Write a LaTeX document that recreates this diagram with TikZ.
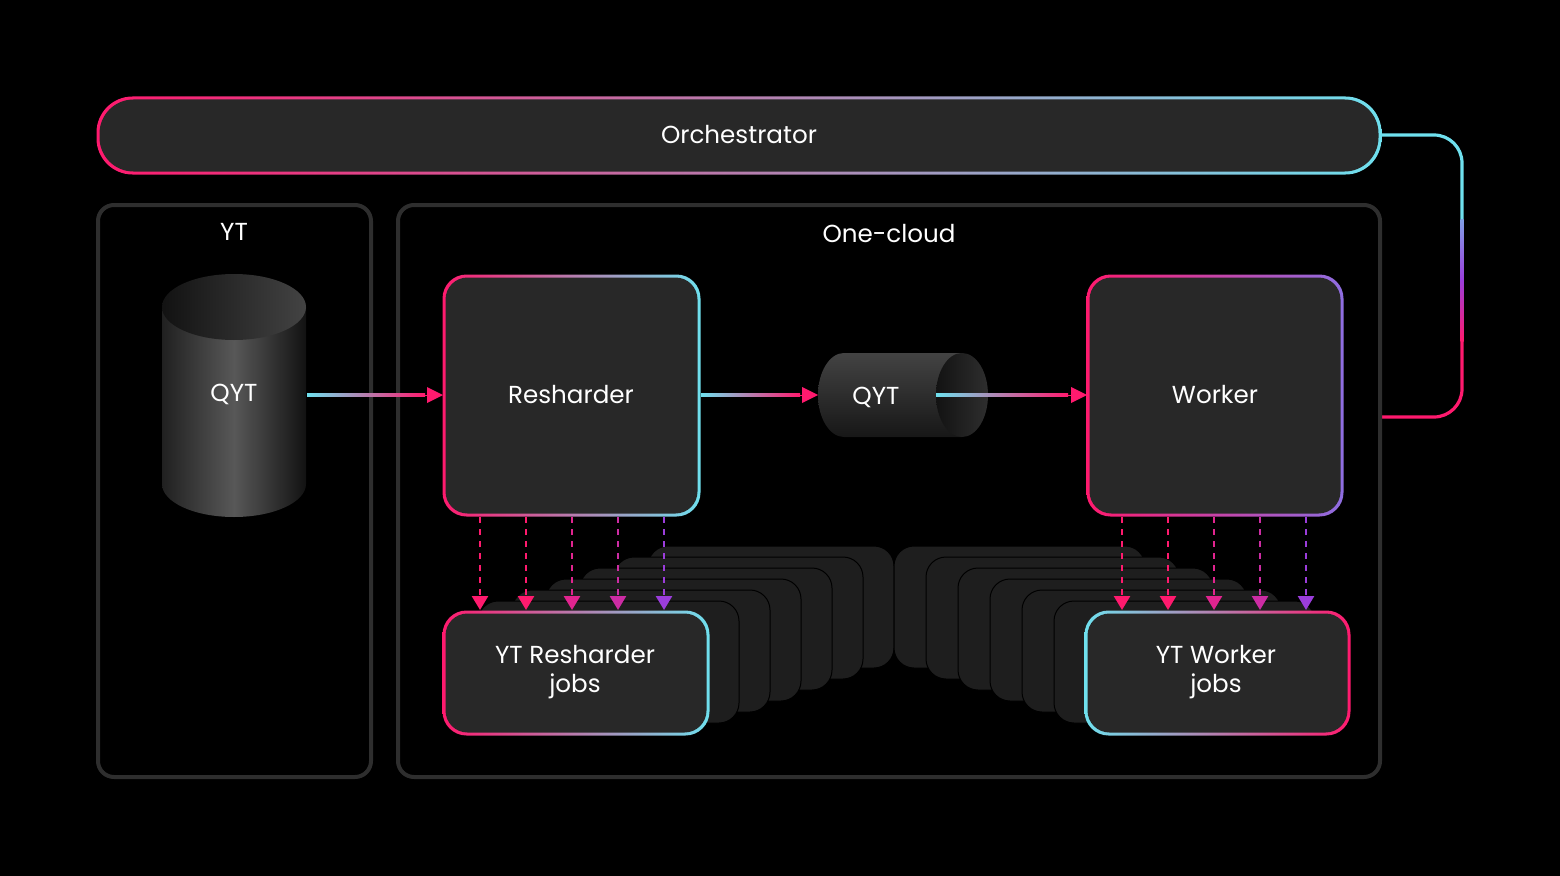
\documentclass[tikz,border=0pt]{standalone}
\usepackage{fontspec}
\setmainfont{Poppins}
\usetikzlibrary{arrows.meta}
\definecolor{pk}{HTML}{FF1A6E}
\definecolor{pu}{HTML}{9B3DDB}
\definecolor{cy}{HTML}{6FE0EE}
\definecolor{bx}{HTML}{282828}
\definecolor{gb}{HTML}{2E2E2E}
\definecolor{sh}{HTML}{1E1E1E}
\tikzset{
 lbl/.style={text=white,font=\fontsize{35}{42}\selectfont,align=center},
 arr/.style={line width=1.6mm,-{Triangle[length=8mm,width=8mm]}},
 dar/.style={line width=1.3mm,dash pattern=on 3mm off 3mm,pk,-{Triangle[length=7mm,width=8mm]}},
 grp/.style={draw=gb,line width=2mm,rounded corners=8mm},
}
\newcommand{\gbox}[8]{% x1 y1 x2 y2 leftcol midcol rightcol radius
 \shade[left color=#5,middle color=#6,right color=#7,rounded corners=#8mm] (#1-1.5,#2-1.5) rectangle (#3+1.5,#4+1.5);
 \fill[bx,rounded corners=#8mm-1mm] (#1+1.5,#2+1.5) rectangle (#3-1.5,#4-1.5);}
\begin{document}
\begin{tikzpicture}[x=0.5mm,y=-0.5mm]
\fill[black] (0,0) rectangle (1560,876);
% orchestrator
\gbox{98}{98}{1380}{173}{pk}{pu}{cy}{18}
\node[lbl] (orch) at (739,135) {Orchestrator};
\draw[cy,line width=1.6mm,rounded corners=14mm] (1382,135) -- (1462,135) -- (1462,220);
\shade[top color=cy!60!pu,bottom color=pu] (1460.5,219) rectangle (1463.5,281);
\shade[top color=pu,bottom color=pk] (1460.5,280) rectangle (1463.5,341);
\draw[pk,line width=1.6mm,rounded corners=14mm] (1462,340) -- (1462,417) -- (1382,417);
% groups
\draw[grp] (98,205) rectangle (371,777);
\node[lbl] (ytl) at (234,232) {YT};
\draw[grp] (398,205) rectangle (1380,777);
\node[lbl] (ocl) at (889,234) {One-cloud};
% cylinder
\shade[left color=gb!70!black,right color=gb!40!black,middle color=gb!80!white] (162,307) -- (162,484) arc[start angle=180,end angle=0,x radius=72,y radius=33] -- (306,307) -- cycle;
\shade[left color=gb!40!black,right color=gb!90!white] (234,307) ellipse[x radius=72,y radius=33];
\node[lbl] (q1) at (234,394) {QYT};
% horizontal cylinder
\shade[top color=gb!90!white,bottom color=gb!50!black] (962,353) -- (844,353) arc[start angle=270,end angle=90,x radius=26,y radius=42] -- (962,437) -- cycle;
\shade[left color=gb!40!black,right color=gb!100!white] (962,395) ellipse[x radius=26,y radius=42];
\node[lbl] (q2) at (876,397) {QYT};
% stacks
\foreach \i in {6,5,...,1}{
 \fill[sh,rounded corners=10mm] (444+\i*34,612-\i*11) rectangle (708+\i*31,734-\i*11);
 \draw[black,line width=0.5mm,rounded corners=10mm] (444+\i*34,612-\i*11) rectangle (708+\i*31,734-\i*11);
 \fill[sh,rounded corners=10mm] (1086-\i*32,612-\i*11) rectangle (1349-\i*34,734-\i*11);
 \draw[black,line width=0.5mm,rounded corners=10mm] (1086-\i*32,612-\i*11) rectangle (1349-\i*34,734-\i*11);
}
% boxes
\gbox{444}{276}{699}{515}{pk}{pu}{cy}{12}
\node[lbl] (res) at (571,395) {Resharder};
\gbox{1088}{276}{1342}{515}{pk}{pk!50!pu}{pu!70!cy}{12}
\node[lbl] (wrk) at (1215,395) {Worker};
\gbox{444}{612}{708}{734}{pk}{pu}{cy}{12}
\node[lbl] (rj) at (575,672) {YT Resharder\\jobs};
\gbox{1086}{612}{1349}{734}{cy}{pu}{pk}{12}
\node[lbl] (wj) at (1216,672) {YT Worker\\jobs};
% arrows
\shade[left color=cy,right color=pk] (307,393.5) rectangle (425,396.5);
\draw[arr,pk,line width=0mm] (424,395) -- (res.west -| 443,0);
\shade[left color=cy,right color=pk] (701,393.5) rectangle (800,396.5);
\draw[arr,pk,line width=0mm] (799,395) -- (818,395);
\shade[left color=cy,right color=pk] (936,393.5) rectangle (1068,396.5);
\draw[arr,pk,line width=0mm] (1067,395) -- (1087,395);
\foreach \x/\c in {480/pk,526/pk,572/pk!70!pu,618/pk!50!pu,664/pu}{
 \draw[dar,\c] (\x,517) -- (\x,610);}
\foreach \x/\c in {1122/pk,1168/pk,1214/pk!70!pu,1260/pk!50!pu,1306/pu}{
 \draw[dar,\c] (\x,517) -- (\x,610);}
\end{tikzpicture}
\end{document}
